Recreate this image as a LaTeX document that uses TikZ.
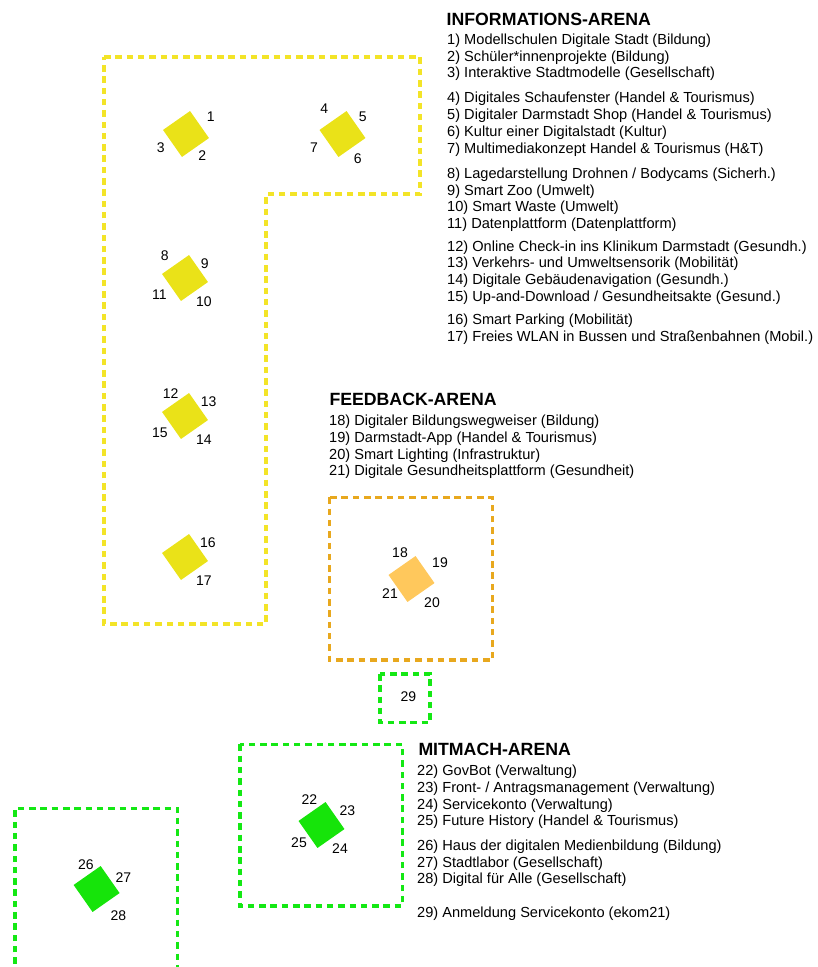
\documentclass[tikz,border=0pt]{standalone}
\usepackage{fontspec}
\setmainfont{Liberation Sans}
\definecolor{ylwsq}{RGB}{234,226,24}
\definecolor{ylwline}{RGB}{243,228,40}
\definecolor{orsq}{RGB}{255,200,92}
\definecolor{orline}{RGB}{232,168,30}
\definecolor{grnsq}{RGB}{22,228,10}
\definecolor{grnline}{RGB}{20,232,20}
\begin{document}
\begin{tikzpicture}[x=1pt,y=-1pt,
  sq/.style={minimum size=33pt,inner sep=0pt,rotate=35},
  arena/.style={line width=3.4pt,dash pattern=on 6.5pt off 4.8pt},
  num/.style={inner sep=0pt,anchor=center,font=\fontsize{14}{16}\selectfont},
  item/.style={inner sep=0pt,anchor=base west,font=\fontsize{14.6}{17}\selectfont},
  ttl/.style={inner sep=0pt,anchor=base west,font=\fontsize{17.7}{20}\selectfont\bfseries}]
\useasboundingbox (0,0) rectangle (817,967);
\clip (0,0) rectangle (817,967);
% arena outlines
\draw[arena,ylwline] (104,57) -- (420,57) -- (420,194) -- (266,194) -- (266,624) -- (104,624) -- cycle;
\draw[arena,orline] (329.3,497.3) rectangle (492.3,660);
\draw[arena,grnline] (380,674) rectangle (430,722.7);
\draw[arena,grnline] (240,744.3) rectangle (402.3,906);
\draw[arena,grnline] (15,975) -- (15,808.3) -- (177.7,808.3) -- (177.7,975);
% squares
\node[sq,fill=ylwsq] (s1) at (186,134) {};
\node[sq,fill=ylwsq] (s4) at (342.5,134) {};
\node[sq,fill=ylwsq] (s8) at (185,278) {};
\node[sq,fill=ylwsq] (s12) at (185,416) {};
\node[sq,fill=ylwsq] (s16) at (185,557) {};
\node[sq,fill=orsq] (s18) at (411.5,579) {};
\node[sq,fill=grnsq] (s22) at (321.5,825) {};
\node[sq,fill=grnsq] (s26) at (96.6,889) {};
% numbers
\node[num] (n1) at (210.7,116.7) {1};
\node[num] (n2) at (202.3,156) {2};
\node[num] (n3) at (160.7,147.3) {3};
\node[num] (n4) at (324.3,109) {4};
\node[num] (n5) at (362.7,116.7) {5};
\node[num] (n6) at (357.7,159) {6};
\node[num] (n7) at (314,147.3) {7};
\node[num] (n8) at (164.7,256) {8};
\node[num] (n9) at (204.7,263.3) {9};
\node[num] (n10) at (204,301.7) {10};
\node[num] (n11) at (159.3,294.3) {11};
\node[num] (n12) at (170.7,394) {12};
\node[num] (n13) at (208.7,402) {13};
\node[num] (n14) at (204,440) {14};
\node[num] (n15) at (160,432.3) {15};
\node[num] (n16) at (208,543) {16};
\node[num] (n17) at (204,581) {17};
\node[num] (n18) at (400,552.3) {18};
\node[num] (n19) at (440,562.7) {19};
\node[num] (n20) at (432,602.7) {20};
\node[num] (n21) at (390,594) {21};
\node[num] (n22) at (309.3,799.3) {22};
\node[num] (n23) at (347.3,810.7) {23};
\node[num] (n24) at (340,849) {24};
\node[num] (n25) at (299,842.3) {25};
\node[num] (n26) at (86,865) {26};
\node[num] (n27) at (123.3,877.3) {27};
\node[num] (n28) at (118.3,915.3) {28};
\node[num] (n29) at (408.3,697) {29};
% Informations-Arena legend
\node[ttl] (tinfo) at (446.5,25.3) {INFORMATIONS-ARENA};
\node[item] (i1) at (447,44.2) {1) Modellschulen Digitale Stadt (Bildung)};
\node[item] (i2) at (447,61.2) {2) Schüler*innenprojekte (Bildung)};
\node[item] (i3) at (447,77.9) {3) Interaktive Stadtmodelle (Gesellschaft)};
\node[item] (i4) at (447,102.5) {4) Digitales Schaufenster (Handel \& Tourismus)};
\node[item] (i5) at (447,119.5) {5) Digitaler Darmstadt Shop (Handel \& Tourismus)};
\node[item] (i6) at (447,136.2) {6) Kultur einer Digitalstadt (Kultur)};
\node[item] (i7) at (447,153.5) {7) Multimediakonzept Handel \& Tourismus (H\&T)};
\node[item] (i8) at (447,178.2) {8) Lagedarstellung Drohnen / Bodycams (Sicherh.)};
\node[item] (i9) at (447,195.2) {9) Smart Zoo (Umwelt)};
\node[item] (i10) at (447,211.9) {10) Smart Waste (Umwelt)};
\node[item] (i11) at (447,228.5) {11) Datenplattform (Datenplattform)};
\node[item] (i12) at (447,251.2) {12) Online Check-in ins Klinikum Darmstadt (Gesundh.)};
\node[item] (i13) at (447,267.5) {13) Verkehrs- und Umweltsensorik (Mobilität)};
\node[item] (i14) at (447,284.2) {14) Digitale Gebäudenavigation (Gesundh.)};
\node[item] (i15) at (447,301.2) {15) Up-and-Download / Gesundheitsakte (Gesund.)};
\node[item] (i16) at (447,324.5) {16) Smart Parking (Mobilität)};
\node[item] (i17) at (447,341.2) {17) Freies WLAN in Bussen und Straßenbahnen (Mobil.)};
% Feedback-Arena legend
\node[ttl] (tfeed) at (329.3,405.3) {FEEDBACK-ARENA};
\node[item] (i18) at (329,425.9) {18) Digitaler Bildungswegweiser (Bildung)};
\node[item] (i19) at (329,442.5) {19) Darmstadt-App (Handel \& Tourismus)};
\node[item] (i20) at (329,459.2) {20) Smart Lighting (Infrastruktur)};
\node[item] (i21) at (329,475.9) {21) Digitale Gesundheitsplattform (Gesundheit)};
% Mitmach-Arena legend
\node[ttl] (tmit) at (418.3,755.3) {MITMACH-ARENA};
\node[item] (i22) at (417,775.9) {22) GovBot (Verwaltung)};
\node[item] (i23) at (417,792.5) {23) Front- / Antragsmanagement (Verwaltung)};
\node[item] (i24) at (417,809.2) {24) Servicekonto (Verwaltung)};
\node[item] (i25) at (417,825.9) {25) Future History (Handel \& Tourismus)};
\node[item] (i26) at (417,850.5) {26) Haus der digitalen Medienbildung (Bildung)};
\node[item] (i27) at (417,867.2) {27) Stadtlabor (Gesellschaft)};
\node[item] (i28) at (417,883.9) {28) Digital für Alle (Gesellschaft)};
\node[item] (i29) at (417,917.9) {29) Anmeldung Servicekonto (ekom21)};
\end{tikzpicture}
\end{document}
